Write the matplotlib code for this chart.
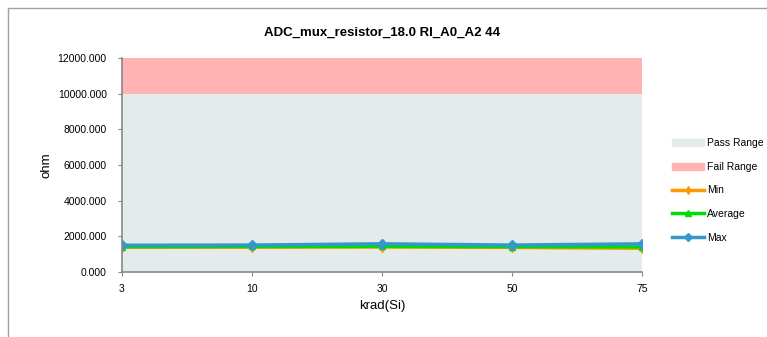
import numpy as np
import matplotlib.pyplot as plt
from matplotlib.patches import Rectangle
from matplotlib.lines import Line2D

# data
krad = ['3', '10', '30', '50', '75']
min_vals = [1390, 1390, 1400, 1380, 1330]
avg_vals = [1420, 1430, 1440, 1420, 1410]
max_vals = [1500, 1510, 1580, 1510, 1580]
pass_low, pass_high = 0, 10000
fail_low, fail_high = 10000, 12000

plt.rcParams['font.family'] = ['Liberation Sans', 'DejaVu Sans']

fig = plt.figure(figsize=(7.67, 3.37), dpi=100)
fig.patches.append(Rectangle((8 / 767, -0.1), 1.2, 1 - 8 / 337 + 0.1, transform=fig.transFigure,
                             fill=False, edgecolor='#a0a0a0', linewidth=1.0))
ax = fig.add_axes([122 / 767, 1 - 272 / 337, 520 / 767, 214 / 337])

x = np.arange(len(krad))
ax.fill_between(x, pass_low, pass_high, color='#e5ebeb', linewidth=0)
ax.fill_between(x, fail_low, fail_high, color='#ffb3b3', linewidth=0)
ax.plot(x, min_vals, color='#ff9900', linewidth=2.5, marker='d', markersize=5)
ax.plot(x, avg_vals, color='#00dd00', linewidth=2.5, marker='^', markersize=5)
ax.plot(x, max_vals, color='#3399cc', linewidth=2.5, marker='D', markersize=5)

ax.set_xlim(0, len(krad) - 1)
ax.set_ylim(0, 12000)
ax.set_xticks(x)
ax.set_xticklabels(krad)
ax.set_yticks(np.arange(0, 12001, 2000))
ax.set_yticklabels([f'{v:.3f}' for v in np.arange(0, 12001, 2000)])
ax.tick_params(labelsize=7.5, color='#888888', length=3)
ax.tick_params(axis='y', pad=8)
ax.tick_params(axis='x', pad=6)
for s in ['top', 'right']:
    ax.spines[s].set_visible(False)
for s in ['left', 'bottom']:
    ax.spines[s].set_color('#888888')
    ax.spines[s].set_linewidth(1.2)

ax.set_xlabel('krad(Si)', fontsize=9.5)
ax.set_ylabel('ohm', fontsize=9.5)
ax.set_title('ADC_mux_resistor_18.0 RI_A0_A2 44', fontsize=9.5, fontweight='bold', pad=16)

handles = [
    Rectangle((0, 0), 1, 1, color='#e5ebeb'),
    Rectangle((0, 0), 1, 1, color='#ffb3b3'),
    Line2D([], [], color='#ff9900', linewidth=2.5, marker='d', markersize=4),
    Line2D([], [], color='#00dd00', linewidth=2.5, marker='^', markersize=4),
    Line2D([], [], color='#3399cc', linewidth=2.5, marker='D', markersize=4),
]
fig.legend(handles, ['Pass Range', 'Fail Range', 'Min', 'Average', 'Max'],
           loc='upper left', bbox_to_anchor=(663 / 767, 1 - 129 / 337), frameon=False,
           fontsize=7.5, handlelength=3, labelspacing=1.3, handletextpad=0.3)

fig.savefig('out.png', dpi=100)
